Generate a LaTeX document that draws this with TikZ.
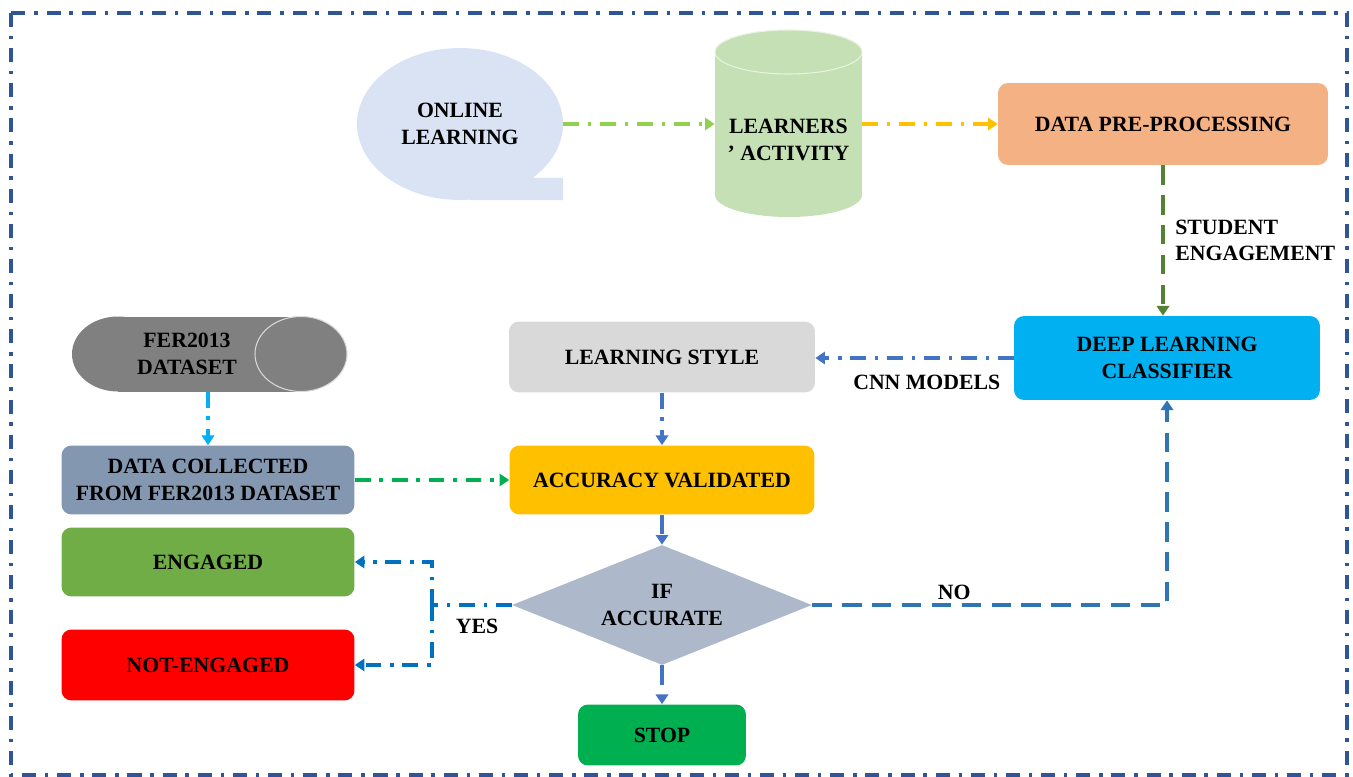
\documentclass[tikz,border=0pt]{standalone}
\usepackage{fontspec}
\setmainfont{Liberation Serif}
\usetikzlibrary{arrows.meta,shapes.geometric}

\definecolor{onlfill}{HTML}{DAE3F3}
\definecolor{actfill}{HTML}{C5E0B4}
\definecolor{prefill}{HTML}{F4B183}
\definecolor{dlcfill}{HTML}{00B0F0}
\definecolor{lsfill}{HTML}{D9D9D9}
\definecolor{avfill}{HTML}{FFC000}
\definecolor{ferfill}{HTML}{808080}
\definecolor{dcfill}{HTML}{8497B0}
\definecolor{engfill}{HTML}{70AD47}
\definecolor{nengfill}{HTML}{FF0000}
\definecolor{diafill}{HTML}{ADB9CA}
\definecolor{stopfill}{HTML}{00B050}
\definecolor{framecol}{HTML}{2F5597}
\definecolor{lgreen}{HTML}{92D050}
\definecolor{dgreen}{HTML}{548235}
\definecolor{flowblue}{HTML}{4472C4}
\definecolor{noblue}{HTML}{2E75B6}
\definecolor{yesblue}{HTML}{0070C0}

\newcommand{\flowfont}{\fontsize{12.4}{15}\selectfont\bfseries}

\begin{document}
\begin{tikzpicture}[x=0.02cm, y=-0.02cm,
    box/.style={rectangle, rounded corners=2mm, align=center, font=\flowfont, inner sep=2pt},
    lbl/.style={font=\flowfont, align=left, inner sep=2pt},
    dd/.style={line width=2pt, dash pattern=on 9pt off 5pt on 2pt off 5pt},
    dl/.style={line width=2pt, dash pattern=on 11pt off 6pt},
    tip/.style={-{Triangle[length=5.5pt,width=7pt]}},
    frame/.style={line width=1.9pt, framecol, dash pattern=on 8pt off 5pt on 2pt off 5pt}]

  \useasboundingbox (0,0) rectangle (1353,777);
  \draw[frame] (11,13) rectangle (1347,775);

  % online learning bubble
  \fill[onlfill] (550,160) -- (533,178) -- (563,178) -- (563,200) -- (470,200) -- (470,180) -- cycle;
  \node[ellipse, fill=onlfill, minimum width=41.2mm, minimum height=30.4mm, font=\flowfont, align=center] (onl) at (460,124) {ONLINE\\LEARNING};

  % learners activity store
  \fill[actfill] (715,52) rectangle (862,195);
  \fill[actfill] (788.5,195) ellipse [x radius=73.5, y radius=22];
  \fill[actfill] (788.5,52) ellipse [x radius=73.5, y radius=22];
  \draw[white!60!actfill, line width=0.6pt] (788.5,52) ellipse [x radius=73.5, y radius=22];
  \node[box, minimum width=29.4mm] (act) at (788.5,140) {LEARNERS\\' ACTIVITY};

  \node[box, fill=prefill, minimum width=66mm, minimum height=16.4mm] (pre) at (1163,124) {DATA PRE-PROCESSING};
  \node[box, fill=dlcfill, minimum width=61.2mm, minimum height=16.8mm] (dlc) at (1167,358) {DEEP LEARNING\\CLASSIFIER};
  \node[box, fill=lsfill, minimum width=61.2mm, minimum height=14.2mm] (ls) at (662,357) {LEARNING STYLE};
  \node[box, fill=avfill, minimum width=61mm, minimum height=13.8mm] (av) at (662,480) {ACCURACY VALIDATED};

  % fer2013 dataset drum
  \fill[ferfill] (118,354) ellipse [x radius=46, y radius=37.5];
  \fill[ferfill] (118,316.5) rectangle (301,391.5);
  \fill[ferfill] (301,354) ellipse [x radius=46, y radius=37.5];
  \draw[lsfill, line width=0.6pt] (301,354) ellipse [x radius=46, y radius=37.5];
  \node[lbl, align=center, minimum height=15mm] (fer) at (187,354) {FER2013\\DATASET};

  \node[box, fill=dcfill, minimum width=58.6mm, minimum height=13.8mm] (dc) at (208,480) {DATA COLLECTED\\FROM FER2013 DATASET};
  \node[box, fill=engfill, minimum width=58.6mm, minimum height=13.8mm] (eng) at (208,562) {ENGAGED};
  \node[box, fill=nengfill, minimum width=58.6mm, minimum height=14.2mm] (neng) at (208,665) {NOT-ENGAGED};
  \node[diamond, aspect=2.5, fill=diafill, minimum width=60mm, minimum height=24mm, inner sep=0pt, font=\flowfont, align=center] (dia) at (662,605) {IF\\ACCURATE};
  \node[box, fill=stopfill, minimum width=33.6mm, minimum height=12.2mm] (stop) at (662,735) {STOP};

  % connectors
  \draw[dd, tip, lgreen] (onl.east) -- (onl.east -| act.west);
  \draw[dd, tip, avfill] (onl.east -| act.east) -- (pre.west);
  \draw[dl, tip, dgreen] (pre.south) -- (pre.south |- dlc.north)
    node[lbl, midway, right, xshift=4pt, text=black] {STUDENT\\ENGAGEMENT};
  \draw[dd, tip, flowblue] (dlc.west) -- (dlc.west -| ls.east)
    node[lbl, midway, below, xshift=7pt, yshift=-7pt, text=black] {CNN MODELS};
  \draw[dd, tip, flowblue] (ls.south) -- (av.north);
  \draw[dd, tip, dlcfill] (fer.south -| dc.north) -- (dc.north);
  \draw[dd, tip, stopfill] (dc.east) -- (av.west);
  \draw[dl, tip, flowblue] (av.south) -- (dia.north);
  \draw[dl, tip, flowblue] (dia.south) -- (stop.north);
  \draw[dl, tip, noblue] (dia.east) -| (dlc.south)
    node[lbl, pos=0.2, above, text=black] {NO};

  \coordinate (yj) at (432,605);
  \draw[dd, yesblue] (dia.west) -- (yj)
    node[lbl, midway, below, xshift=3pt, yshift=-5pt, text=black] {YES};
  \draw[dd, tip, yesblue] (yj) |- (eng.east);
  \draw[dd, tip, yesblue] (yj) |- (neng.east);

\end{tikzpicture}
\end{document}
